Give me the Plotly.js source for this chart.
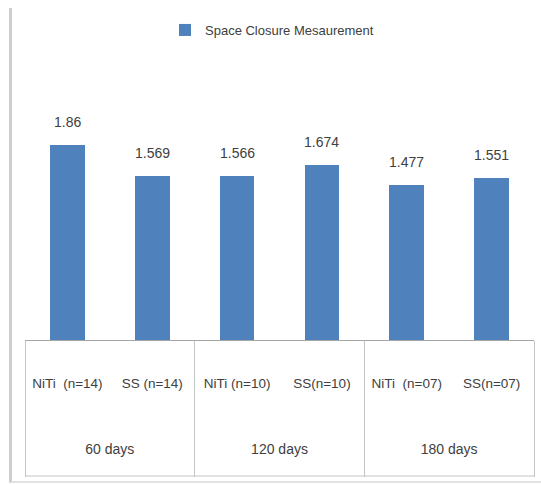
<!DOCTYPE html>
<html>
<head>
<meta charset="utf-8">
<script src="https://cdn.plot.ly/plotly-3.0.1.min.js"></script>
<style>
  html, body { margin: 0; padding: 0; background: #ffffff; }
  #wrap { position: relative; width: 541px; height: 484px; overflow: hidden; }
  #frame { position: absolute; left: 9px; top: 8px; width: 540px; height: 473px;
           border-left: 3px solid #cfcfcf; border-bottom: 2px solid #e2e2e2; }
  #chart { position: absolute; left: 0; top: 0; width: 541px; height: 484px; }
</style>
</head>
<body>
<div id="wrap">
  <div id="frame"></div>
  <div id="chart"></div>
</div>
<script>
// ---- data ----
const seriesName = 'Space Closure Mesaurement';
const groups = ['60 days', '60 days', '120 days', '120 days', '180 days', '180 days'];
const subLabels = ['NiTi  (n=14)', 'SS (n=14)', 'NiTi (n=10)', 'SS(n=10)', 'NiTi  (n=07)', 'SS(n=07)'];
const values = [1.86, 1.569, 1.566, 1.674, 1.477, 1.551];
const valueLabels = ['1.86', '1.569', '1.566', '1.674', '1.477', '1.551'];

// ---- layout helpers ----
const W = 541, H = 484;
const M = {l: 25, r: 7, t: 60, b: 144};
const plotW = W - M.l - M.r;
const plotH = H - M.t - M.b;          // 280
const axisBottomPx = 476;             // bottom edge of label box
const boxBottom = -(axisBottomPx - (H - M.b)) / plotH;

const idx = values.map((_, i) => i);
const n = values.length;

// group centres and boundaries derived from the groups array
const groupNames = [];
const groupCentres = [];
const boundaries = [-0.5];
let start = 0;
for (let i = 1; i <= n; i++) {
  if (i === n || groups[i] !== groups[start]) {
    groupNames.push(groups[start]);
    groupCentres.push((start + i - 1) / 2);
    boundaries.push(i - 0.5);
    start = i;
  }
}

const FONT = '"Liberation Sans", Arial, sans-serif';
const TXT = '#404040';
const LINE = '#a6a6a6';

const trace = {
  type: 'bar',
  name: seriesName,
  x: idx,
  y: values,
  width: 0.41,
  marker: {color: '#4F81BD'},
  showlegend: true,
  hoverinfo: 'x+y'
};

// empty helper traces to make overlay axes exist
const helper2 = {type: 'scatter', x: [null], y: [null], xaxis: 'x2', yaxis: 'y', showlegend: false, hoverinfo: 'skip'};
const helper3 = {type: 'scatter', x: [null], y: [null], xaxis: 'x3', yaxis: 'y', showlegend: false, hoverinfo: 'skip'};

const annotations = values.map((v, i) => ({
  x: i, y: v, xref: 'x', yref: 'y',
  text: valueLabels[i], showarrow: false,
  yanchor: 'middle', yshift: 23,
  font: {family: FONT, size: 14, color: TXT}
}));

const layout = {
  width: W, height: H,
  margin: M,
  paper_bgcolor: 'rgba(0,0,0,0)',
  plot_bgcolor: 'rgba(0,0,0,0)',
  font: {family: FONT, color: TXT, size: 14},
  showlegend: true,
  legend: {
    orientation: 'h', x: (165 - M.l) / plotW, xanchor: 'left',
    y: (H - M.b - 30) / plotH, yanchor: 'middle',
    font: {family: FONT, size: 13, color: TXT},
    itemwidth: 30
  },
  xaxis: {
    type: 'linear',
    range: [-0.5, n - 0.5],
    tickmode: 'array', tickvals: idx, ticktext: subLabels,
    ticks: 'outside', ticklen: 31, tickcolor: 'rgba(0,0,0,0)',
    tickfont: {family: FONT, size: 13.5, color: TXT},
    showline: true, linecolor: LINE, linewidth: 1,
    showgrid: false, zeroline: false, fixedrange: true
  },
  xaxis2: {
    overlaying: 'x', anchor: 'y', side: 'bottom',
    type: 'linear', range: [-0.5, n - 0.5],
    tickmode: 'array', tickvals: groupCentres, ticktext: groupNames,
    ticks: 'outside', ticklen: 96, tickcolor: 'rgba(0,0,0,0)',
    tickfont: {family: FONT, size: 14, color: TXT},
    showline: false, showgrid: false, zeroline: false, fixedrange: true
  },
  xaxis3: {
    overlaying: 'x', anchor: 'y', side: 'bottom',
    type: 'linear', range: [-0.5, n - 0.5],
    tickmode: 'array', tickvals: boundaries,
    ticks: 'outside', ticklen: axisBottomPx - (H - M.b), tickcolor: '#c4c4c4', tickwidth: 1,
    showticklabels: false,
    showline: false, showgrid: false, zeroline: false, fixedrange: true
  },
  yaxis: {
    range: [0, plotH / 104.7],
    visible: false, showgrid: false, zeroline: false, fixedrange: true
  },
  shapes: [{
    type: 'line', xref: 'paper', yref: 'paper',
    x0: 0, x1: 1, y0: boxBottom, y1: boxBottom,
    line: {color: '#c4c4c4', width: 1}
  }],
  annotations: annotations,
  bargap: 0
};

Plotly.newPlot('chart', [trace, helper2, helper3], layout, {displayModeBar: false, staticPlot: true});
</script>
</body>
</html>
